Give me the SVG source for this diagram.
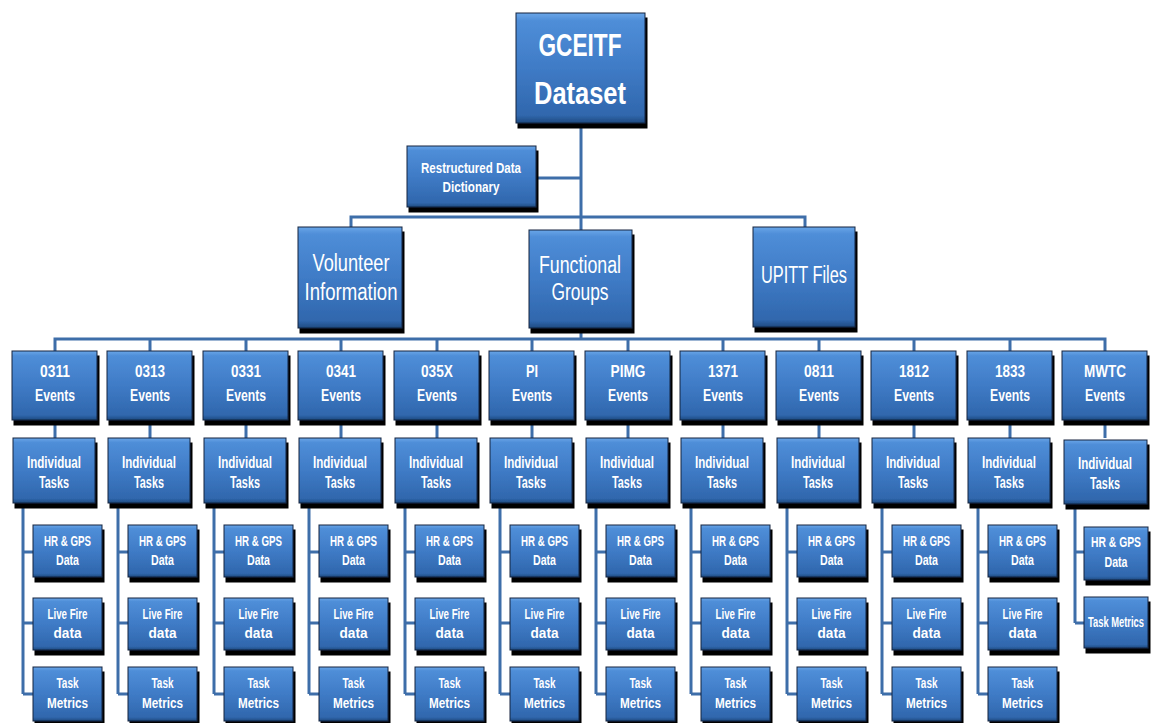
<svg xmlns="http://www.w3.org/2000/svg" width="1151" height="723" viewBox="0 0 1151 723">
  <defs>
    <linearGradient id="boxFill" x1="0" y1="0" x2="0" y2="1">
      <stop offset="0" stop-color="#6aa6e8"/>
      <stop offset="0.07" stop-color="#4f8ed8"/>
      <stop offset="0.5" stop-color="#3f7bc6"/>
      <stop offset="0.93" stop-color="#3067ad"/>
      <stop offset="1" stop-color="#1f4a80"/>
    </linearGradient>
    <filter id="shadow" x="-10%" y="-10%" width="130%" height="130%">
      <feFlood flood-color="#000000" result="black"/>
      <feComposite in="black" in2="SourceAlpha" operator="in" result="silhouette"/>
      <feOffset in="silhouette" dx="2" dy="5" result="offset"/>
      <feMerge>
        <feMergeNode in="offset"/>
        <feMergeNode in="SourceGraphic"/>
      </feMerge>
    </filter>
    <style>
      .bx { fill: url(#boxFill); stroke: #12253f; stroke-width: 1; filter: url(#shadow); }
      .ln { fill: none; stroke: #3e6ea9; stroke-width: 3; stroke-linejoin: miter; }
      text { fill: #ffffff; font-family: "Liberation Sans Narrow", "Liberation Sans", Arial, sans-serif; text-anchor: middle; }
      .t1 { font-size: 32px; font-weight: bold; }
      .t2 { font-size: 15px; font-weight: bold; }
      .t3 { font-size: 23px; }
      .ev { font-size: 17px; font-weight: bold; }
      .it { font-size: 16px; font-weight: bold; }
      .sb { font-size: 14px; font-weight: bold; }
    </style>
  </defs>

  <rect width="1151" height="723" fill="#ffffff"/>

  <!-- connecting lines -->
  <g id="connectors">
    <path class="ln" d="M581,123 V231 M581,328 V339 M536,178 H581"/>
    <path class="ln" d="M351,227 V217 H805 V227"/>
    <path class="ln" d="M55,351 V339 H1105 V351"/>
    <path class="ln" d="M150,339 V351 M246,339 V351 M341,339 V351 M437,339 V351 M532,339 V351 M628,339 V351 M723,339 V351 M819,339 V351 M914,339 V351 M1010,339 V351"/>
    <path class="ln" d="M55,420 V438 M150,420 V438 M246,420 V438 M341,420 V438 M437,420 V438 M532,420 V438 M628,420 V438 M723,420 V438 M819,420 V438 M914,420 V438 M1010,420 V438 M1105,420 V438"/>
    <path class="ln" d="M23,503 V694 M23,552 H33 M23,623 H33 M23,694 H33"/>
    <path class="ln" d="M118,503 V694 M118,552 H128 M118,623 H128 M118,694 H128"/>
    <path class="ln" d="M214,503 V694 M214,552 H224 M214,623 H224 M214,694 H224"/>
    <path class="ln" d="M309,503 V694 M309,552 H319 M309,623 H319 M309,694 H319"/>
    <path class="ln" d="M405,503 V694 M405,552 H415 M405,623 H415 M405,694 H415"/>
    <path class="ln" d="M500,503 V694 M500,552 H510 M500,623 H510 M500,694 H510"/>
    <path class="ln" d="M596,503 V694 M596,552 H606 M596,623 H606 M596,694 H606"/>
    <path class="ln" d="M691,503 V694 M691,552 H701 M691,623 H701 M691,694 H701"/>
    <path class="ln" d="M787,503 V694 M787,552 H797 M787,623 H797 M787,694 H797"/>
    <path class="ln" d="M882,503 V694 M882,552 H892 M882,623 H892 M882,694 H892"/>
    <path class="ln" d="M978,503 V694 M978,552 H988 M978,623 H988 M978,694 H988"/>
    <path class="ln" d="M1075,504 V623 M1075,552 H1084 M1075,623 H1084"/>
  </g>

  <!-- root -->
  <g id="gceitf-dataset">
    <rect class="bx" x="516" y="13" width="129" height="110"/>
    <text class="t1" x="580" y="56" textLength="83" lengthAdjust="spacingAndGlyphs">GCEITF</text>
    <text class="t1" x="580" y="104" textLength="92" lengthAdjust="spacingAndGlyphs">Dataset</text>
  </g>

  <g id="restructured-data-dictionary">
    <rect class="bx" x="407" y="146" width="129" height="61"/>
    <text class="t2" x="471" y="173" textLength="100" lengthAdjust="spacingAndGlyphs">Restructured Data</text>
    <text class="t2" x="471" y="192" textLength="57" lengthAdjust="spacingAndGlyphs">Dictionary</text>
  </g>

  <!-- second level -->
  <g id="volunteer-information">
    <rect class="bx" x="298" y="227" width="104" height="101"/>
    <text class="t3" x="351" y="271" textLength="77" lengthAdjust="spacingAndGlyphs">Volunteer</text>
    <text class="t3" x="351" y="300" textLength="93" lengthAdjust="spacingAndGlyphs">Information</text>
  </g>
  <g id="functional-groups">
    <rect class="bx" x="529" y="230" width="103" height="98"/>
    <text class="t3" x="580" y="273" textLength="82" lengthAdjust="spacingAndGlyphs">Functional</text>
    <text class="t3" x="580" y="300" textLength="57" lengthAdjust="spacingAndGlyphs">Groups</text>
  </g>
  <g id="upitt-files">
    <rect class="bx" x="753" y="227" width="102" height="100"/>
    <text class="t3" x="804" y="283" textLength="86" lengthAdjust="spacingAndGlyphs">UPITT Files</text>
  </g>

  <!-- event groups -->
  <g id="events-0311">
    <rect class="bx" x="12" y="351" width="85" height="69"/>
    <text class="ev" x="55" y="377" textLength="30" lengthAdjust="spacingAndGlyphs">0311</text>
    <text class="ev" x="55" y="401" textLength="40" lengthAdjust="spacingAndGlyphs">Events</text>
  </g>
  <g id="events-0313">
    <rect class="bx" x="107" y="351" width="85" height="69"/>
    <text class="ev" x="150" y="377" textLength="30" lengthAdjust="spacingAndGlyphs">0313</text>
    <text class="ev" x="150" y="401" textLength="40" lengthAdjust="spacingAndGlyphs">Events</text>
  </g>
  <g id="events-0331">
    <rect class="bx" x="203" y="351" width="85" height="69"/>
    <text class="ev" x="246" y="377" textLength="30" lengthAdjust="spacingAndGlyphs">0331</text>
    <text class="ev" x="246" y="401" textLength="40" lengthAdjust="spacingAndGlyphs">Events</text>
  </g>
  <g id="events-0341">
    <rect class="bx" x="298" y="351" width="85" height="69"/>
    <text class="ev" x="341" y="377" textLength="30" lengthAdjust="spacingAndGlyphs">0341</text>
    <text class="ev" x="341" y="401" textLength="40" lengthAdjust="spacingAndGlyphs">Events</text>
  </g>
  <g id="events-035x">
    <rect class="bx" x="394" y="351" width="85" height="69"/>
    <text class="ev" x="437" y="377" textLength="32" lengthAdjust="spacingAndGlyphs">035X</text>
    <text class="ev" x="437" y="401" textLength="40" lengthAdjust="spacingAndGlyphs">Events</text>
  </g>
  <g id="events-pi">
    <rect class="bx" x="489" y="351" width="85" height="69"/>
    <text class="ev" x="532" y="377" textLength="12" lengthAdjust="spacingAndGlyphs">PI</text>
    <text class="ev" x="532" y="401" textLength="40" lengthAdjust="spacingAndGlyphs">Events</text>
  </g>
  <g id="events-pimg">
    <rect class="bx" x="585" y="351" width="85" height="69"/>
    <text class="ev" x="628" y="377" textLength="35" lengthAdjust="spacingAndGlyphs">PIMG</text>
    <text class="ev" x="628" y="401" textLength="40" lengthAdjust="spacingAndGlyphs">Events</text>
  </g>
  <g id="events-1371">
    <rect class="bx" x="680" y="351" width="85" height="69"/>
    <text class="ev" x="723" y="377" textLength="30" lengthAdjust="spacingAndGlyphs">1371</text>
    <text class="ev" x="723" y="401" textLength="40" lengthAdjust="spacingAndGlyphs">Events</text>
  </g>
  <g id="events-0811">
    <rect class="bx" x="776" y="351" width="85" height="69"/>
    <text class="ev" x="819" y="377" textLength="30" lengthAdjust="spacingAndGlyphs">0811</text>
    <text class="ev" x="819" y="401" textLength="40" lengthAdjust="spacingAndGlyphs">Events</text>
  </g>
  <g id="events-1812">
    <rect class="bx" x="871" y="351" width="85" height="69"/>
    <text class="ev" x="914" y="377" textLength="30" lengthAdjust="spacingAndGlyphs">1812</text>
    <text class="ev" x="914" y="401" textLength="40" lengthAdjust="spacingAndGlyphs">Events</text>
  </g>
  <g id="events-1833">
    <rect class="bx" x="967" y="351" width="85" height="69"/>
    <text class="ev" x="1010" y="377" textLength="30" lengthAdjust="spacingAndGlyphs">1833</text>
    <text class="ev" x="1010" y="401" textLength="40" lengthAdjust="spacingAndGlyphs">Events</text>
  </g>
  <g id="events-mwtc">
    <rect class="bx" x="1062" y="351" width="85" height="69"/>
    <text class="ev" x="1105" y="377" textLength="42" lengthAdjust="spacingAndGlyphs">MWTC</text>
    <text class="ev" x="1105" y="401" textLength="40" lengthAdjust="spacingAndGlyphs">Events</text>
  </g>

  <!-- individual tasks -->
  <g id="tasks-0311">
    <rect class="bx" x="13" y="438" width="82" height="65"/>
    <text class="it" x="54" y="468" textLength="54" lengthAdjust="spacingAndGlyphs">Individual</text>
    <text class="it" x="54" y="488" textLength="30" lengthAdjust="spacingAndGlyphs">Tasks</text>
  </g>
  <g id="tasks-0313">
    <rect class="bx" x="108" y="438" width="82" height="65"/>
    <text class="it" x="149" y="468" textLength="54" lengthAdjust="spacingAndGlyphs">Individual</text>
    <text class="it" x="149" y="488" textLength="30" lengthAdjust="spacingAndGlyphs">Tasks</text>
  </g>
  <g id="tasks-0331">
    <rect class="bx" x="204" y="438" width="82" height="65"/>
    <text class="it" x="245" y="468" textLength="54" lengthAdjust="spacingAndGlyphs">Individual</text>
    <text class="it" x="245" y="488" textLength="30" lengthAdjust="spacingAndGlyphs">Tasks</text>
  </g>
  <g id="tasks-0341">
    <rect class="bx" x="299" y="438" width="82" height="65"/>
    <text class="it" x="340" y="468" textLength="54" lengthAdjust="spacingAndGlyphs">Individual</text>
    <text class="it" x="340" y="488" textLength="30" lengthAdjust="spacingAndGlyphs">Tasks</text>
  </g>
  <g id="tasks-035x">
    <rect class="bx" x="395" y="438" width="82" height="65"/>
    <text class="it" x="436" y="468" textLength="54" lengthAdjust="spacingAndGlyphs">Individual</text>
    <text class="it" x="436" y="488" textLength="30" lengthAdjust="spacingAndGlyphs">Tasks</text>
  </g>
  <g id="tasks-pi">
    <rect class="bx" x="490" y="438" width="82" height="65"/>
    <text class="it" x="531" y="468" textLength="54" lengthAdjust="spacingAndGlyphs">Individual</text>
    <text class="it" x="531" y="488" textLength="30" lengthAdjust="spacingAndGlyphs">Tasks</text>
  </g>
  <g id="tasks-pimg">
    <rect class="bx" x="586" y="438" width="82" height="65"/>
    <text class="it" x="627" y="468" textLength="54" lengthAdjust="spacingAndGlyphs">Individual</text>
    <text class="it" x="627" y="488" textLength="30" lengthAdjust="spacingAndGlyphs">Tasks</text>
  </g>
  <g id="tasks-1371">
    <rect class="bx" x="681" y="438" width="82" height="65"/>
    <text class="it" x="722" y="468" textLength="54" lengthAdjust="spacingAndGlyphs">Individual</text>
    <text class="it" x="722" y="488" textLength="30" lengthAdjust="spacingAndGlyphs">Tasks</text>
  </g>
  <g id="tasks-0811">
    <rect class="bx" x="777" y="438" width="82" height="65"/>
    <text class="it" x="818" y="468" textLength="54" lengthAdjust="spacingAndGlyphs">Individual</text>
    <text class="it" x="818" y="488" textLength="30" lengthAdjust="spacingAndGlyphs">Tasks</text>
  </g>
  <g id="tasks-1812">
    <rect class="bx" x="872" y="438" width="82" height="65"/>
    <text class="it" x="913" y="468" textLength="54" lengthAdjust="spacingAndGlyphs">Individual</text>
    <text class="it" x="913" y="488" textLength="30" lengthAdjust="spacingAndGlyphs">Tasks</text>
  </g>
  <g id="tasks-1833">
    <rect class="bx" x="968" y="438" width="82" height="65"/>
    <text class="it" x="1009" y="468" textLength="54" lengthAdjust="spacingAndGlyphs">Individual</text>
    <text class="it" x="1009" y="488" textLength="30" lengthAdjust="spacingAndGlyphs">Tasks</text>
  </g>
  <g id="tasks-mwtc">
    <rect class="bx" x="1064" y="440" width="83" height="64"/>
    <text class="it" x="1105" y="469" textLength="54" lengthAdjust="spacingAndGlyphs">Individual</text>
    <text class="it" x="1105" y="489" textLength="30" lengthAdjust="spacingAndGlyphs">Tasks</text>
  </g>

  <!-- HR & GPS data -->
  <g id="hr-gps-0311"><rect class="bx" x="33" y="525" width="69" height="52"/><text class="sb" x="67.5" y="546" textLength="47" lengthAdjust="spacingAndGlyphs">HR &amp; GPS</text><text class="sb" x="67.5" y="565" textLength="23" lengthAdjust="spacingAndGlyphs">Data</text></g>
  <g id="hr-gps-0313"><rect class="bx" x="128" y="525" width="69" height="52"/><text class="sb" x="162.5" y="546" textLength="47" lengthAdjust="spacingAndGlyphs">HR &amp; GPS</text><text class="sb" x="162.5" y="565" textLength="23" lengthAdjust="spacingAndGlyphs">Data</text></g>
  <g id="hr-gps-0331"><rect class="bx" x="224" y="525" width="69" height="52"/><text class="sb" x="258.5" y="546" textLength="47" lengthAdjust="spacingAndGlyphs">HR &amp; GPS</text><text class="sb" x="258.5" y="565" textLength="23" lengthAdjust="spacingAndGlyphs">Data</text></g>
  <g id="hr-gps-0341"><rect class="bx" x="319" y="525" width="69" height="52"/><text class="sb" x="353.5" y="546" textLength="47" lengthAdjust="spacingAndGlyphs">HR &amp; GPS</text><text class="sb" x="353.5" y="565" textLength="23" lengthAdjust="spacingAndGlyphs">Data</text></g>
  <g id="hr-gps-035x"><rect class="bx" x="415" y="525" width="69" height="52"/><text class="sb" x="449.5" y="546" textLength="47" lengthAdjust="spacingAndGlyphs">HR &amp; GPS</text><text class="sb" x="449.5" y="565" textLength="23" lengthAdjust="spacingAndGlyphs">Data</text></g>
  <g id="hr-gps-pi"><rect class="bx" x="510" y="525" width="69" height="52"/><text class="sb" x="544.5" y="546" textLength="47" lengthAdjust="spacingAndGlyphs">HR &amp; GPS</text><text class="sb" x="544.5" y="565" textLength="23" lengthAdjust="spacingAndGlyphs">Data</text></g>
  <g id="hr-gps-pimg"><rect class="bx" x="606" y="525" width="69" height="52"/><text class="sb" x="640.5" y="546" textLength="47" lengthAdjust="spacingAndGlyphs">HR &amp; GPS</text><text class="sb" x="640.5" y="565" textLength="23" lengthAdjust="spacingAndGlyphs">Data</text></g>
  <g id="hr-gps-1371"><rect class="bx" x="701" y="525" width="69" height="52"/><text class="sb" x="735.5" y="546" textLength="47" lengthAdjust="spacingAndGlyphs">HR &amp; GPS</text><text class="sb" x="735.5" y="565" textLength="23" lengthAdjust="spacingAndGlyphs">Data</text></g>
  <g id="hr-gps-0811"><rect class="bx" x="797" y="525" width="69" height="52"/><text class="sb" x="831.5" y="546" textLength="47" lengthAdjust="spacingAndGlyphs">HR &amp; GPS</text><text class="sb" x="831.5" y="565" textLength="23" lengthAdjust="spacingAndGlyphs">Data</text></g>
  <g id="hr-gps-1812"><rect class="bx" x="892" y="525" width="69" height="52"/><text class="sb" x="926.5" y="546" textLength="47" lengthAdjust="spacingAndGlyphs">HR &amp; GPS</text><text class="sb" x="926.5" y="565" textLength="23" lengthAdjust="spacingAndGlyphs">Data</text></g>
  <g id="hr-gps-1833"><rect class="bx" x="988" y="525" width="69" height="52"/><text class="sb" x="1022.5" y="546" textLength="47" lengthAdjust="spacingAndGlyphs">HR &amp; GPS</text><text class="sb" x="1022.5" y="565" textLength="23" lengthAdjust="spacingAndGlyphs">Data</text></g>
  <g id="hr-gps-mwtc"><rect class="bx" x="1084" y="527" width="64" height="53"/><text class="sb" x="1116" y="547" textLength="50" lengthAdjust="spacingAndGlyphs">HR &amp; GPS</text><text class="sb" x="1116" y="567" textLength="23" lengthAdjust="spacingAndGlyphs">Data</text></g>

  <!-- live fire data -->
  <g id="live-fire-0311"><rect class="bx" x="33" y="598" width="69" height="52"/><text class="sb" x="67.5" y="619" textLength="40" lengthAdjust="spacingAndGlyphs">Live Fire</text><text class="sb" x="67.5" y="638" textLength="28" lengthAdjust="spacingAndGlyphs">data</text></g>
  <g id="live-fire-0313"><rect class="bx" x="128" y="598" width="69" height="52"/><text class="sb" x="162.5" y="619" textLength="40" lengthAdjust="spacingAndGlyphs">Live Fire</text><text class="sb" x="162.5" y="638" textLength="28" lengthAdjust="spacingAndGlyphs">data</text></g>
  <g id="live-fire-0331"><rect class="bx" x="224" y="598" width="69" height="52"/><text class="sb" x="258.5" y="619" textLength="40" lengthAdjust="spacingAndGlyphs">Live Fire</text><text class="sb" x="258.5" y="638" textLength="28" lengthAdjust="spacingAndGlyphs">data</text></g>
  <g id="live-fire-0341"><rect class="bx" x="319" y="598" width="69" height="52"/><text class="sb" x="353.5" y="619" textLength="40" lengthAdjust="spacingAndGlyphs">Live Fire</text><text class="sb" x="353.5" y="638" textLength="28" lengthAdjust="spacingAndGlyphs">data</text></g>
  <g id="live-fire-035x"><rect class="bx" x="415" y="598" width="69" height="52"/><text class="sb" x="449.5" y="619" textLength="40" lengthAdjust="spacingAndGlyphs">Live Fire</text><text class="sb" x="449.5" y="638" textLength="28" lengthAdjust="spacingAndGlyphs">data</text></g>
  <g id="live-fire-pi"><rect class="bx" x="510" y="598" width="69" height="52"/><text class="sb" x="544.5" y="619" textLength="40" lengthAdjust="spacingAndGlyphs">Live Fire</text><text class="sb" x="544.5" y="638" textLength="28" lengthAdjust="spacingAndGlyphs">data</text></g>
  <g id="live-fire-pimg"><rect class="bx" x="606" y="598" width="69" height="52"/><text class="sb" x="640.5" y="619" textLength="40" lengthAdjust="spacingAndGlyphs">Live Fire</text><text class="sb" x="640.5" y="638" textLength="28" lengthAdjust="spacingAndGlyphs">data</text></g>
  <g id="live-fire-1371"><rect class="bx" x="701" y="598" width="69" height="52"/><text class="sb" x="735.5" y="619" textLength="40" lengthAdjust="spacingAndGlyphs">Live Fire</text><text class="sb" x="735.5" y="638" textLength="28" lengthAdjust="spacingAndGlyphs">data</text></g>
  <g id="live-fire-0811"><rect class="bx" x="797" y="598" width="69" height="52"/><text class="sb" x="831.5" y="619" textLength="40" lengthAdjust="spacingAndGlyphs">Live Fire</text><text class="sb" x="831.5" y="638" textLength="28" lengthAdjust="spacingAndGlyphs">data</text></g>
  <g id="live-fire-1812"><rect class="bx" x="892" y="598" width="69" height="52"/><text class="sb" x="926.5" y="619" textLength="40" lengthAdjust="spacingAndGlyphs">Live Fire</text><text class="sb" x="926.5" y="638" textLength="28" lengthAdjust="spacingAndGlyphs">data</text></g>
  <g id="live-fire-1833"><rect class="bx" x="988" y="598" width="69" height="52"/><text class="sb" x="1022.5" y="619" textLength="40" lengthAdjust="spacingAndGlyphs">Live Fire</text><text class="sb" x="1022.5" y="638" textLength="28" lengthAdjust="spacingAndGlyphs">data</text></g>

  <!-- task metrics -->
  <g id="metrics-0311"><rect class="bx" x="33" y="667" width="69" height="54"/><text class="sb" x="67.5" y="688" textLength="22" lengthAdjust="spacingAndGlyphs">Task</text><text class="sb" x="67.5" y="708" textLength="41" lengthAdjust="spacingAndGlyphs">Metrics</text></g>
  <g id="metrics-0313"><rect class="bx" x="128" y="667" width="69" height="54"/><text class="sb" x="162.5" y="688" textLength="22" lengthAdjust="spacingAndGlyphs">Task</text><text class="sb" x="162.5" y="708" textLength="41" lengthAdjust="spacingAndGlyphs">Metrics</text></g>
  <g id="metrics-0331"><rect class="bx" x="224" y="667" width="69" height="54"/><text class="sb" x="258.5" y="688" textLength="22" lengthAdjust="spacingAndGlyphs">Task</text><text class="sb" x="258.5" y="708" textLength="41" lengthAdjust="spacingAndGlyphs">Metrics</text></g>
  <g id="metrics-0341"><rect class="bx" x="319" y="667" width="69" height="54"/><text class="sb" x="353.5" y="688" textLength="22" lengthAdjust="spacingAndGlyphs">Task</text><text class="sb" x="353.5" y="708" textLength="41" lengthAdjust="spacingAndGlyphs">Metrics</text></g>
  <g id="metrics-035x"><rect class="bx" x="415" y="667" width="69" height="54"/><text class="sb" x="449.5" y="688" textLength="22" lengthAdjust="spacingAndGlyphs">Task</text><text class="sb" x="449.5" y="708" textLength="41" lengthAdjust="spacingAndGlyphs">Metrics</text></g>
  <g id="metrics-pi"><rect class="bx" x="510" y="667" width="69" height="54"/><text class="sb" x="544.5" y="688" textLength="22" lengthAdjust="spacingAndGlyphs">Task</text><text class="sb" x="544.5" y="708" textLength="41" lengthAdjust="spacingAndGlyphs">Metrics</text></g>
  <g id="metrics-pimg"><rect class="bx" x="606" y="667" width="69" height="54"/><text class="sb" x="640.5" y="688" textLength="22" lengthAdjust="spacingAndGlyphs">Task</text><text class="sb" x="640.5" y="708" textLength="41" lengthAdjust="spacingAndGlyphs">Metrics</text></g>
  <g id="metrics-1371"><rect class="bx" x="701" y="667" width="69" height="54"/><text class="sb" x="735.5" y="688" textLength="22" lengthAdjust="spacingAndGlyphs">Task</text><text class="sb" x="735.5" y="708" textLength="41" lengthAdjust="spacingAndGlyphs">Metrics</text></g>
  <g id="metrics-0811"><rect class="bx" x="797" y="667" width="69" height="54"/><text class="sb" x="831.5" y="688" textLength="22" lengthAdjust="spacingAndGlyphs">Task</text><text class="sb" x="831.5" y="708" textLength="41" lengthAdjust="spacingAndGlyphs">Metrics</text></g>
  <g id="metrics-1812"><rect class="bx" x="892" y="667" width="69" height="54"/><text class="sb" x="926.5" y="688" textLength="22" lengthAdjust="spacingAndGlyphs">Task</text><text class="sb" x="926.5" y="708" textLength="41" lengthAdjust="spacingAndGlyphs">Metrics</text></g>
  <g id="metrics-1833"><rect class="bx" x="988" y="667" width="69" height="54"/><text class="sb" x="1022.5" y="688" textLength="22" lengthAdjust="spacingAndGlyphs">Task</text><text class="sb" x="1022.5" y="708" textLength="41" lengthAdjust="spacingAndGlyphs">Metrics</text></g>
  <g id="metrics-mwtc"><rect class="bx" x="1084" y="597" width="64" height="51"/><text class="sb" x="1116" y="627" textLength="56" lengthAdjust="spacingAndGlyphs">Task Metrics</text></g>
</svg>
